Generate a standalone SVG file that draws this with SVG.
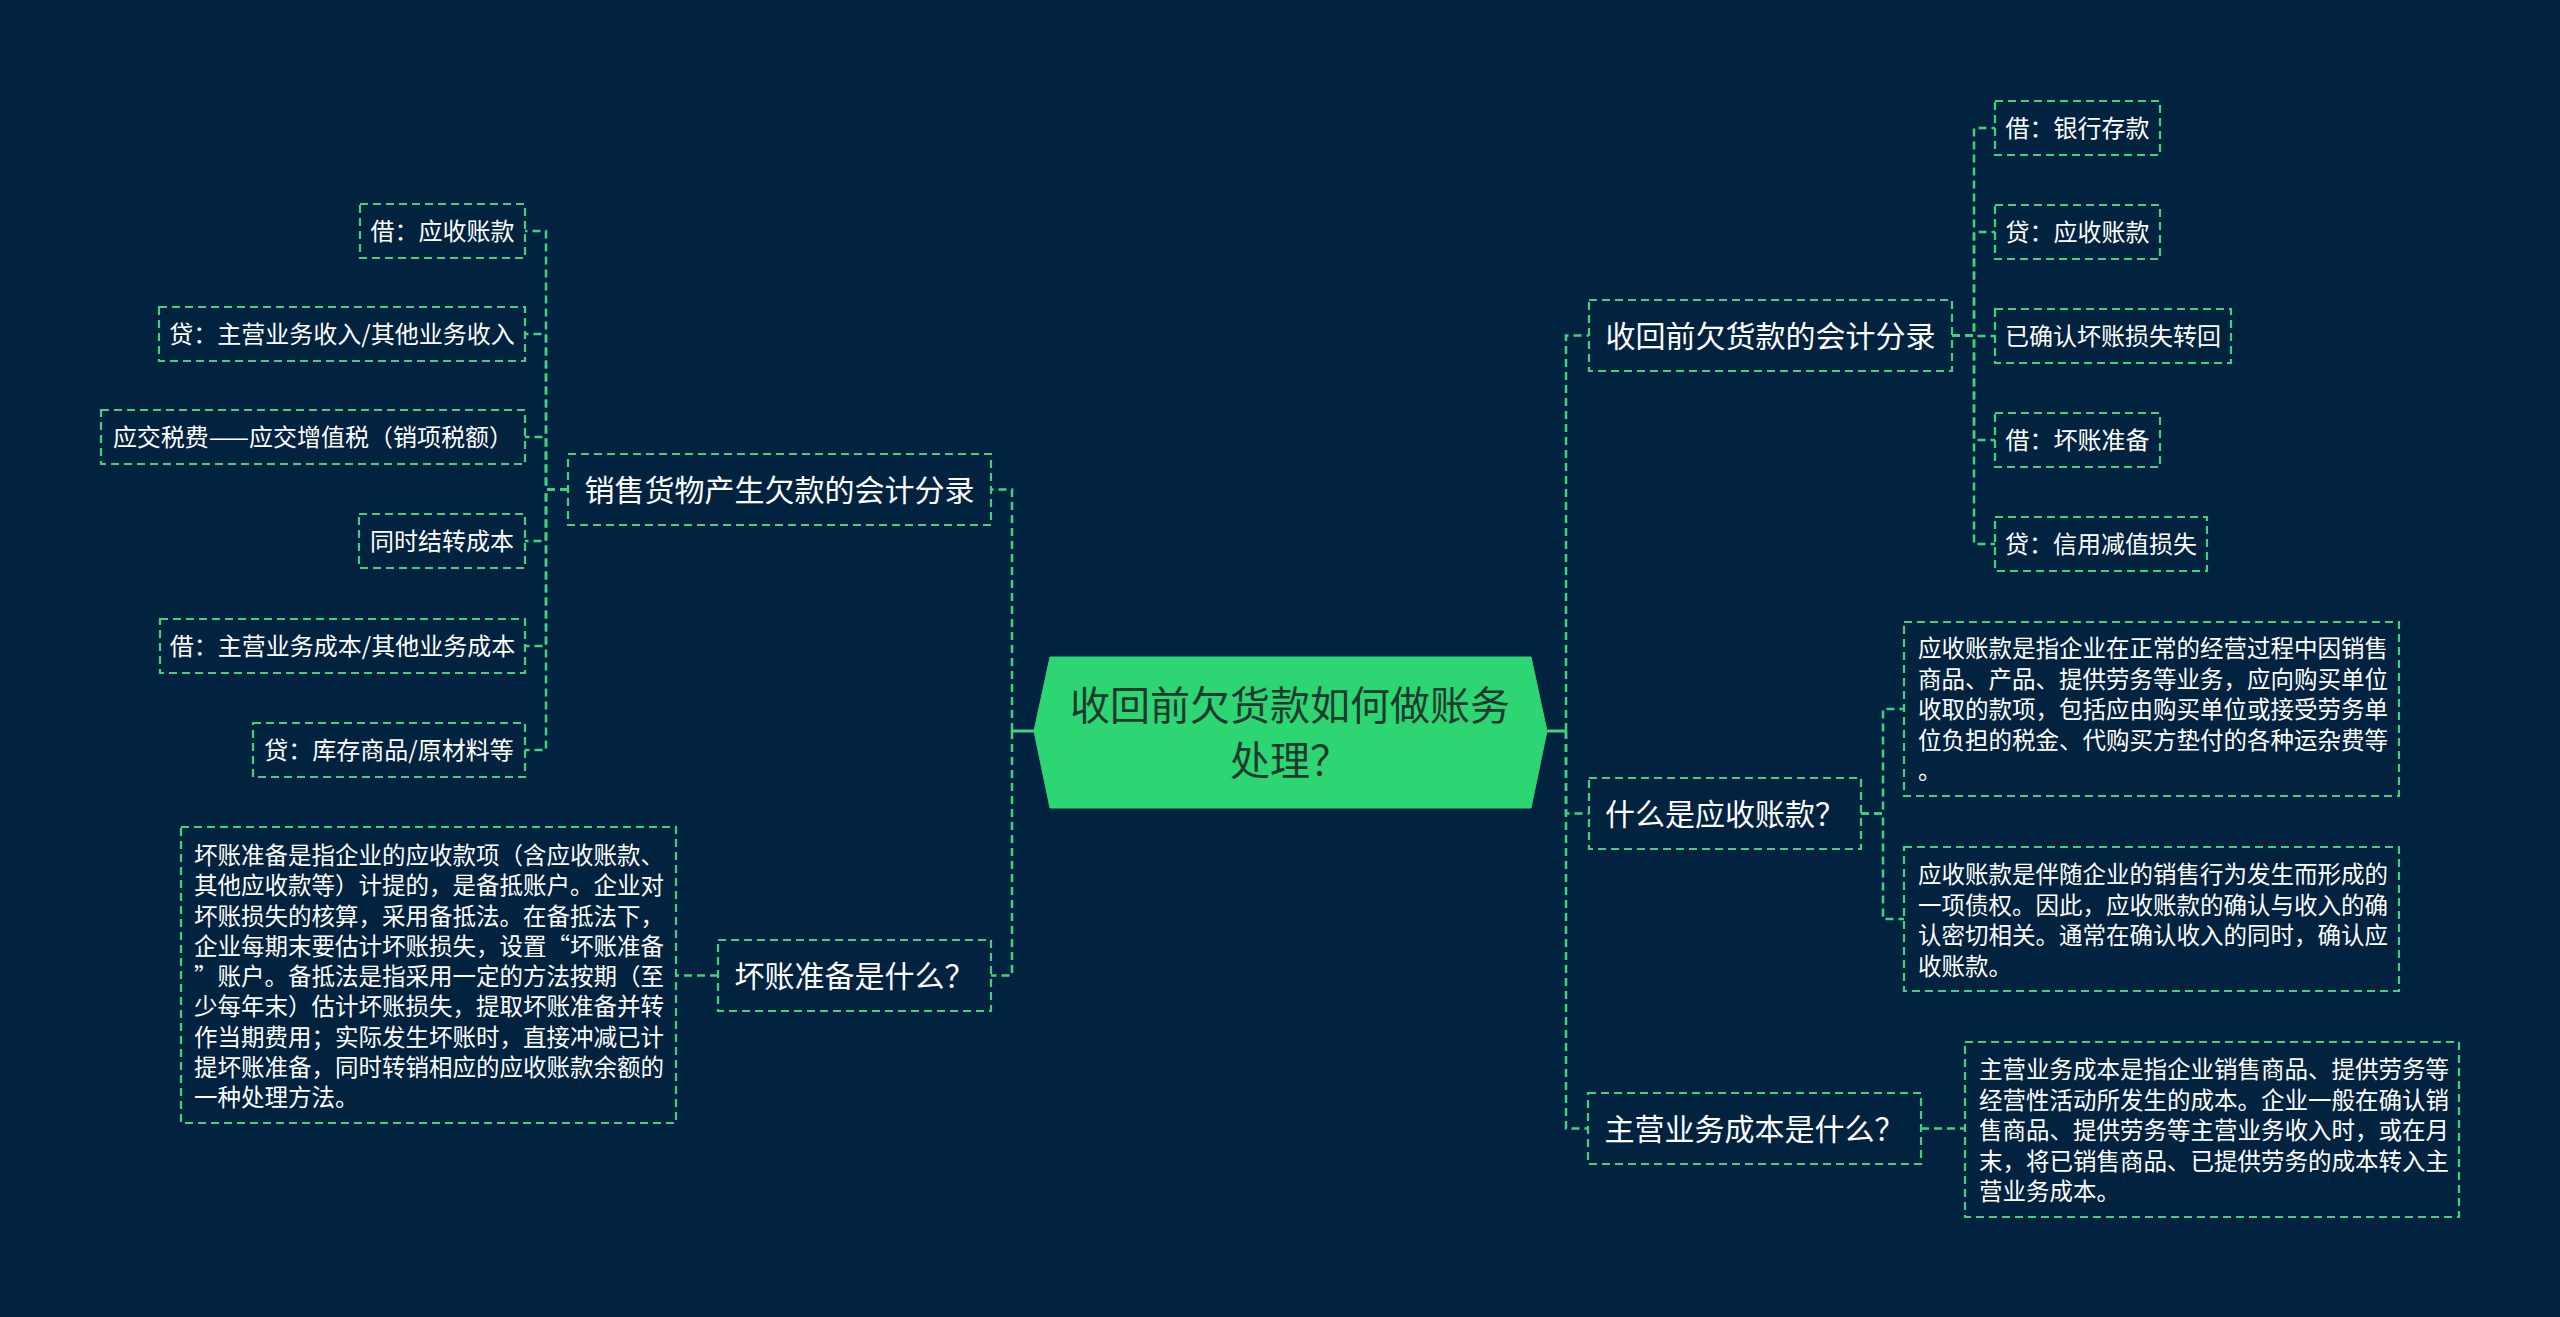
<svg xmlns="http://www.w3.org/2000/svg" width="2560" height="1317" viewBox="0 0 2560 1317">
<style>
.bg{fill:#022340}
.box{fill:none;stroke:#41d07e;stroke-width:2.2;stroke-dasharray:8 5}
.con{fill:none;stroke:#41d07e;stroke-width:2.5;stroke-dasharray:8 5}
.stub{fill:none;stroke:#41d07e;stroke-width:3}
.t{font-family:"Noto Sans CJK SC","Noto Sans",sans-serif;fill:#ffffff}
.br{font-size:30px;text-anchor:middle}
.lf{font-size:24px;text-anchor:middle}
.pg{font-size:23.5px}
.root{font-family:"Noto Sans CJK SC","Noto Sans",sans-serif;font-size:40px;fill:#1e3a2f;text-anchor:middle}
</style>
<rect class="bg" x="0" y="0" width="2560" height="1317"/>

<g id="connectors">
  <path class="stub" d="M1034 731 H1012"/>
  <path class="stub" d="M1547 731 H1566"/>
  <path class="con" d="M1012 731 V489.5 H991"/>
  <path class="con" d="M1012 731 V975.5 H991"/>
  <path class="con" d="M568 489.5 H546 V231 H525"/>
  <path class="con" d="M568 489.5 H546 V334 H525"/>
  <path class="con" d="M568 489.5 H546 V437 H525"/>
  <path class="con" d="M568 489.5 H546 V541 H525"/>
  <path class="con" d="M568 489.5 H546 V646 H525"/>
  <path class="con" d="M568 489.5 H546 V750 H525"/>
  <path class="con" d="M718 975.5 H676"/>
  <path class="con" d="M1566 731 V335.5 H1589"/>
  <path class="con" d="M1566 731 V813.5 H1589"/>
  <path class="con" d="M1566 731 V1128.5 H1588"/>
  <path class="con" d="M1952 335.5 H1974 V128 H1995"/>
  <path class="con" d="M1952 335.5 H1974 V232 H1995"/>
  <path class="con" d="M1952 335.5 H1974 V336 H1995"/>
  <path class="con" d="M1952 335.5 H1974 V440 H1995"/>
  <path class="con" d="M1952 335.5 H1974 V544 H1995"/>
  <path class="con" d="M1861 813.5 H1883 V709 H1904"/>
  <path class="con" d="M1861 813.5 H1883 V919 H1904"/>
  <path class="con" d="M1921 1128.5 H1965"/>
</g>

<g id="root">
  <polygon points="1034,731 1050,657 1531,657 1547,731 1531,808 1050,808" fill="#2ed573" stroke="#2ed573" stroke-width="1"/>
  <text class="root" x="1290" y="720">收回前欠货款如何做账务</text>
  <text class="root" x="1290" y="775">处理？</text>
</g>

<g id="n-sales">
  <rect class="box" x="568" y="454" width="423" height="71"/>
  <text class="t br" x="779.5" y="501">销售货物产生欠款的会计分录</text>
</g>
<g id="n-s1">
  <rect class="box" x="360" y="204" width="165" height="54"/>
  <text class="t lf" x="442.5" y="240">借：应收账款</text>
</g>
<g id="n-s2">
  <rect class="box" x="159" y="307" width="366" height="54"/>
  <text class="t lf" x="342" y="343">贷：主营业务收入/其他业务收入</text>
</g>
<g id="n-s3">
  <rect class="box" x="101" y="410" width="424" height="54"/>
  <text class="t lf" x="313" y="446">应交税费——应交增值税（销项税额）</text>
</g>
<g id="n-s4">
  <rect class="box" x="359" y="514" width="166" height="54"/>
  <text class="t lf" x="442" y="550">同时结转成本</text>
</g>
<g id="n-s5">
  <rect class="box" x="160" y="619" width="365" height="54"/>
  <text class="t lf" x="342.5" y="655">借：主营业务成本/其他业务成本</text>
</g>
<g id="n-s6">
  <rect class="box" x="253" y="723" width="272" height="54"/>
  <text class="t lf" x="389" y="759">贷：库存商品/原材料等</text>
</g>

<g id="n-bad">
  <rect class="box" x="718" y="940" width="273" height="71"/>
  <text class="t br" x="854.5" y="987">坏账准备是什么？</text>
</g>
<g id="n-bad-desc">
  <rect class="box" x="181" y="827" width="495" height="296"/>
  <text class="t pg" x="194" y="864">
    <tspan x="194" y="864">坏账准备是指企业的应收款项（含应收账款、</tspan>
    <tspan x="194" y="894.25">其他应收款等）计提的，是备抵账户。企业对</tspan>
    <tspan x="194" y="924.5">坏账损失的核算，采用备抵法。在备抵法下，</tspan>
    <tspan x="194" y="954.75">企业每期末要估计坏账损失，设置“坏账准备</tspan>
    <tspan x="194" y="985">”账户。备抵法是指采用一定的方法按期（至</tspan>
    <tspan x="194" y="1015.25">少每年末）估计坏账损失，提取坏账准备并转</tspan>
    <tspan x="194" y="1045.5">作当期费用；实际发生坏账时，直接冲减已计</tspan>
    <tspan x="194" y="1075.75">提坏账准备，同时转销相应的应收账款余额的</tspan>
    <tspan x="194" y="1106">一种处理方法。</tspan>
  </text>
</g>

<g id="n-recover">
  <rect class="box" x="1589" y="300" width="363" height="71"/>
  <text class="t br" x="1770.5" y="347">收回前欠货款的会计分录</text>
</g>
<g id="n-r1">
  <rect class="box" x="1995" y="101" width="165" height="54"/>
  <text class="t lf" x="2077.5" y="137">借：银行存款</text>
</g>
<g id="n-r2">
  <rect class="box" x="1995" y="205" width="165" height="54"/>
  <text class="t lf" x="2077.5" y="241">贷：应收账款</text>
</g>
<g id="n-r3">
  <rect class="box" x="1995" y="309" width="236" height="54"/>
  <text class="t lf" x="2113" y="345">已确认坏账损失转回</text>
</g>
<g id="n-r4">
  <rect class="box" x="1995" y="413" width="165" height="54"/>
  <text class="t lf" x="2077.5" y="449">借：坏账准备</text>
</g>
<g id="n-r5">
  <rect class="box" x="1995" y="517" width="212" height="54"/>
  <text class="t lf" x="2101" y="553">贷：信用减值损失</text>
</g>

<g id="n-ar">
  <rect class="box" x="1589" y="778" width="272" height="71"/>
  <text class="t br" x="1725" y="825">什么是应收账款？</text>
</g>
<g id="n-ar1">
  <rect class="box" x="1904" y="622" width="495" height="174"/>
  <text class="t pg">
    <tspan x="1918" y="657">应收账款是指企业在正常的经营过程中因销售</tspan>
    <tspan x="1918" y="687.5">商品、产品、提供劳务等业务，应向购买单位</tspan>
    <tspan x="1918" y="718">收取的款项，包括应由购买单位或接受劳务单</tspan>
    <tspan x="1918" y="748.5">位负担的税金、代购买方垫付的各种运杂费等</tspan>
    <tspan x="1918" y="779">。</tspan>
  </text>
</g>
<g id="n-ar2">
  <rect class="box" x="1904" y="847" width="495" height="144"/>
  <text class="t pg">
    <tspan x="1918" y="883">应收账款是伴随企业的销售行为发生而形成的</tspan>
    <tspan x="1918" y="913.5">一项债权。因此，应收账款的确认与收入的确</tspan>
    <tspan x="1918" y="944">认密切相关。通常在确认收入的同时，确认应</tspan>
    <tspan x="1918" y="974.5">收账款。</tspan>
  </text>
</g>

<g id="n-cost">
  <rect class="box" x="1588" y="1093" width="333" height="71"/>
  <text class="t br" x="1754.5" y="1140">主营业务成本是什么？</text>
</g>
<g id="n-cost1">
  <rect class="box" x="1965" y="1042" width="494" height="175"/>
  <text class="t pg">
    <tspan x="1979" y="1078">主营业务成本是指企业销售商品、提供劳务等</tspan>
    <tspan x="1979" y="1108.5">经营性活动所发生的成本。企业一般在确认销</tspan>
    <tspan x="1979" y="1139">售商品、提供劳务等主营业务收入时，或在月</tspan>
    <tspan x="1979" y="1169.5">末，将已销售商品、已提供劳务的成本转入主</tspan>
    <tspan x="1979" y="1200">营业务成本。</tspan>
  </text>
</g>
</svg>
